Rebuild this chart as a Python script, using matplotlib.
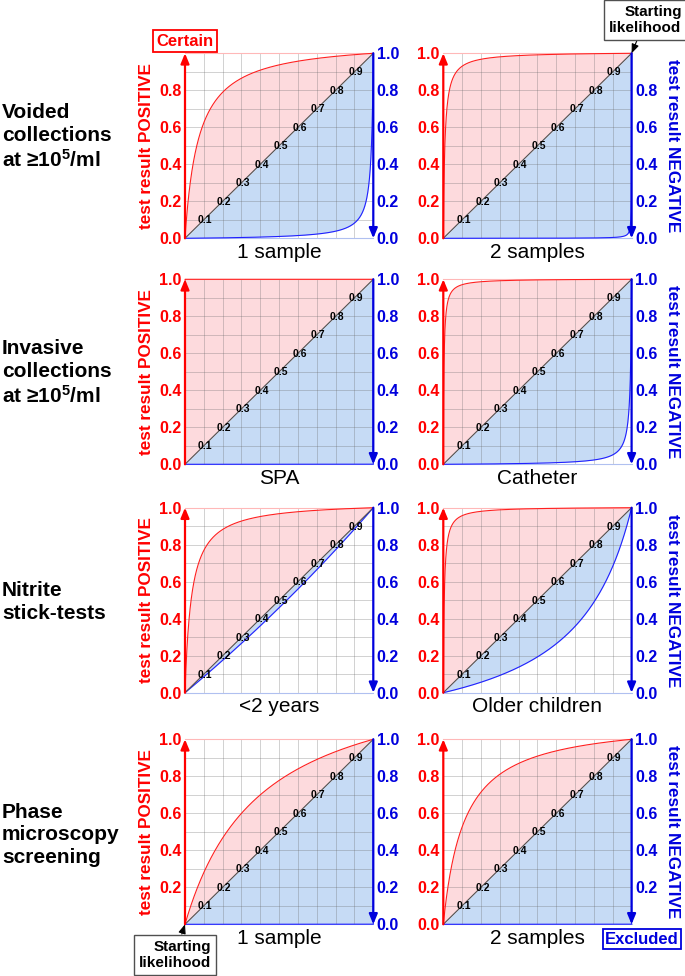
import numpy as np
import matplotlib
matplotlib.use("Agg")
import matplotlib.pyplot as plt

plt.rcParams['font.family'] = ['Liberation Sans', 'DejaVu Sans']
plt.rcParams['mathtext.default'] = 'regular'

# ---- data ----
row_labels = ['Voided\ncollections\nat \u226510$^5$/ml',
              'Invasive\ncollections\nat \u226510$^5$/ml',
              'Nitrite\nstick-tests',
              'Phase\nmicroscopy\nscreening']
panel_labels = ['1 sample', '2 samples', 'SPA', 'Catheter',
                '<2 years', 'Older children', '1 sample', '2 samples']
# likelihood ratios
lr_positive = [15, 120, np.inf, 300, 30, 200, 3.5, 10]
lr_negative = [0.01, 0.0005, 0.0, 0.006, 0.85, 0.24, 0.0, 0.0]
tick_values = [0.0, 0.2, 0.4, 0.6, 0.8, 1.0]
diag_labels = ['0.1', '0.2', '0.3', '0.4', '0.5', '0.6', '0.7', '0.8', '0.9']
# tick labels hidden because an annotation box sits there: (panel, side, value)
hidden_ticks = [(0, 'left', 1.0), (6, 'left', 0.0), (1, 'right', 1.0), (7, 'right', 0.0)]

RED = '#ff0000'
BLUE = '#0000dd'
PINK = '#fddadd'
LBLUE = '#c6dbf5'

W, H = 685, 976
fig = plt.figure(figsize=(W / 100, H / 100), dpi=100)

col_left = [185, 443.3]
row_top = [53.3, 279.3, 507.7, 739.3]
aw, ah = 188.3, 185.0

p = np.unique(np.concatenate([np.linspace(0, 1, 2001),
                              np.geomspace(1e-7, 0.02, 400),
                              1 - np.geomspace(1e-7, 0.02, 400)]))


def post_prob(lr, prior):
    lr = np.clip(lr, 1e-9, 1e9)
    with np.errstate(divide='ignore', invalid='ignore'):
        odds = prior / (1 - prior) * lr
        out = odds / (1 + odds)
    out = np.where(prior >= 1, 1.0, out)
    out = np.where(prior <= 0, 0.0, out)
    return out


axes = []
for i in range(8):
    r, c = divmod(i, 2)
    ax = fig.add_axes([col_left[c] / W, 1 - (row_top[r] + ah) / H, aw / W, ah / H])
    axes.append(ax)
    ax.set_xlim(0, 1)
    ax.set_ylim(0, 1)
    ax.set_xticks([])
    ax.set_yticks(tick_values)
    ax.yaxis.set_major_formatter('{x:.1f}')
    ax.tick_params(axis='y', length=0, left=True, right=True,
                   labelleft=True, labelright=True, labelsize=11.5, pad=2.5)
    for v, tick in zip(tick_values, ax.yaxis.get_major_ticks()):
        tick.label1.set_color(RED)
        tick.label1.set_fontweight('bold')
        tick.label2.set_color(BLUE)
        tick.label2.set_fontweight('bold')
        for (pi, side, hv) in hidden_ticks:
            if pi == i and abs(hv - v) < 1e-9:
                (tick.label1 if side == 'left' else tick.label2).set_visible(False)

    for s in ['left', 'right']:
        ax.spines[s].set_visible(False)
    ax.spines['top'].set_color('#ffb8b8')
    ax.spines['top'].set_linewidth(0.8)
    ax.spines['bottom'].set_color('#b0c0f0')
    ax.spines['bottom'].set_linewidth(0.8)

    pos = post_prob(lr_positive[i], p)
    neg = post_prob(lr_negative[i], p)
    ax.fill_between(p, p, pos, color=PINK, lw=0, zorder=1)
    ax.fill_between(p, neg, p, color=LBLUE, lw=0, zorder=1)

    for g in np.arange(1, 10) / 10:
        ax.axvline(g, color='0.4', alpha=0.3, lw=0.7, zorder=2)
        ax.axhline(g, color='0.4', alpha=0.3, lw=0.7, zorder=2)

    ax.plot(p, pos, color='#ff2020', lw=0.8, zorder=3, clip_on=False)
    ax.plot(p, neg, color='#2020ff', lw=0.8, zorder=3, clip_on=False)
    ax.plot([0, 1], [0, 1], color='#505050', lw=0.8, zorder=3)
    for lab in diag_labels:
        v = float(lab)
        ax.text(v + 0.008, v - 0.002, lab, fontsize=7.5, fontweight='bold',
                ha='center', va='center', zorder=4)

    ax.annotate('', xy=(0, 1.0), xytext=(0, 0),
                arrowprops=dict(arrowstyle='-|>,head_length=0.6,head_width=0.25',
                                color=RED, lw=1.6, shrinkA=0, shrinkB=0),
                annotation_clip=False, zorder=6)
    ax.annotate('', xy=(1, 0.0), xytext=(1, 1),
                arrowprops=dict(arrowstyle='-|>,head_length=0.6,head_width=0.25',
                                color=BLUE, lw=1.6, shrinkA=0, shrinkB=0),
                annotation_clip=False, zorder=6)

    ax.text(0.5, -0.105, panel_labels[i], transform=ax.transAxes,
            ha='center', va='baseline', fontsize=15)

    if c == 0:
        ax.text(-0.207, 0.5, 'test result POSITIVE', transform=ax.transAxes,
                rotation=90, ha='center', va='center', color=RED,
                fontsize=12.3, fontweight='bold')
    else:
        ax.text(1.219, 0.5, 'test result NEGATIVE', transform=ax.transAxes,
                rotation=270, ha='center', va='center', color=BLUE,
                fontsize=12.3, fontweight='bold')

row_centers = [137, 373, 602, 835]
for lab, yc in zip(row_labels, row_centers):
    fig.text(2 / W, 1 - yc / H, lab, ha='left', va='center', fontsize=15,
             fontweight='bold', linespacing=1.25)

# annotation boxes
fig.text(185 / W, 1 - 41 / H, 'Certain', ha='center', va='center', color=RED,
         fontsize=12, fontweight='bold',
         bbox=dict(boxstyle='square,pad=0.2', fc='white', ec=RED, lw=1.3))
fig.text(642 / W, 1 - 939 / H, 'Excluded', ha='center', va='center', color=BLUE,
         fontsize=12, fontweight='bold',
         bbox=dict(boxstyle='square,pad=0.15', fc='white', ec=BLUE, lw=1.3))

box_style = dict(boxstyle='square,pad=0.35', fc='white', ec='#505050', lw=1)
axes[1].annotate('Starting\nlikelihood', xy=(1, 1), xycoords='data',
                 xytext=(645.5 / W, 1 - 20 / H), textcoords='figure fraction',
                 ha='center', va='center', multialignment='right',
                 fontsize=11, fontweight='bold', bbox=box_style,
                 arrowprops=dict(arrowstyle='-|>,head_length=0.5,head_width=0.2',
                                 color='black', lw=0.8, shrinkA=0, shrinkB=0),
                 annotation_clip=False, zorder=10)
axes[6].annotate('Starting\nlikelihood', xy=(0, 0), xycoords='data',
                 xytext=(175 / W, 1 - 955 / H), textcoords='figure fraction',
                 ha='center', va='center', multialignment='right',
                 fontsize=11, fontweight='bold', bbox=box_style,
                 arrowprops=dict(arrowstyle='-|>,head_length=0.5,head_width=0.2',
                                 color='black', lw=0.8, shrinkA=0, shrinkB=0),
                 annotation_clip=False, zorder=10)

fig.savefig('out.png', dpi=100)
